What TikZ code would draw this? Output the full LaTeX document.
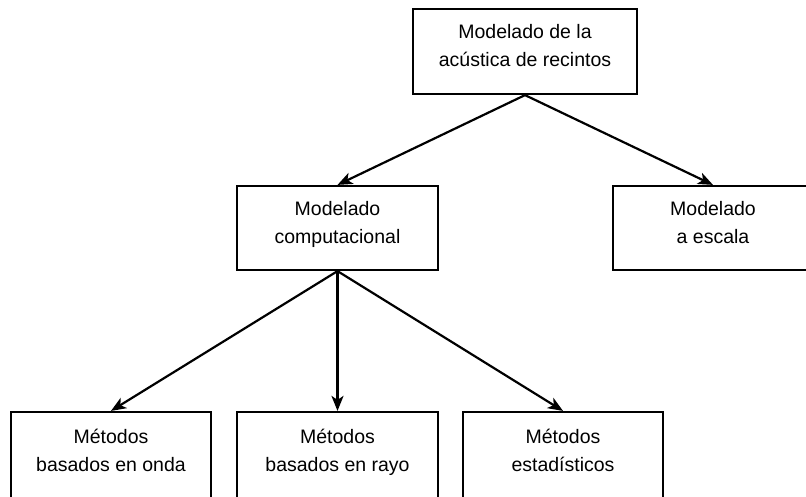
\documentclass[tikz,border=0pt]{standalone}
\usepackage{fontspec}
\setmainfont{Liberation Sans}
\usetikzlibrary{arrows.meta}
\begin{document}
\begin{tikzpicture}[x=1pt,y=-1pt,
  box/.style={draw=black,line width=2.2pt,minimum width=#1,inner sep=0pt,fill=white},
  box/.default=200pt,
  txt/.style={align=center,inner sep=0pt,font=\fontsize{19.5}{28}\selectfont},
  arr/.style={line width=2.2pt,-{Stealth[length=15pt,width=12pt,inset=4pt]}}]
\useasboundingbox (0,0) rectangle (806,496);
\clip (0,0) rectangle (806,496);
% boxes
\node[box=224pt,minimum height=85pt] (top) at (525,51.5) {};
\node[box=201pt,minimum height=84pt] (comp) at (337.5,228) {};
\node[box=200pt,minimum height=84pt] (esc) at (713,228) {};
\node[box=200pt,minimum height=88pt] (onda) at (111,456) {};
\node[box=201pt,minimum height=88pt] (rayo) at (337.5,456) {};
\node[box=200pt,minimum height=88pt] (est) at (563,456) {};
% texts
\node[txt] (topT) at (525,46) {Modelado de la\\acústica de recintos};
\node[txt] (compT) at (337.5,224.5) {Modelado\\computacional};
\node[txt] (escT) at (713,223) {Modelado\\a escala};
\node[txt] (ondaT) at (111,450) {Métodos\\basados en onda};
\node[txt] (rayoT) at (337.5,452.5) {Métodos\\basados en rayo};
\node[txt] (estT) at (563,450) {Métodos\\estadísticos};
% arrows
\draw[arr] (top.south) -- (comp.north);
\draw[arr] (top.south) -- (esc.north);
\draw[arr] (comp.south) -- (onda.north);
\draw[arr] (comp.south) -- (rayo.north);
\draw[arr] (comp.south) -- (est.north);
\end{tikzpicture}
\end{document}
